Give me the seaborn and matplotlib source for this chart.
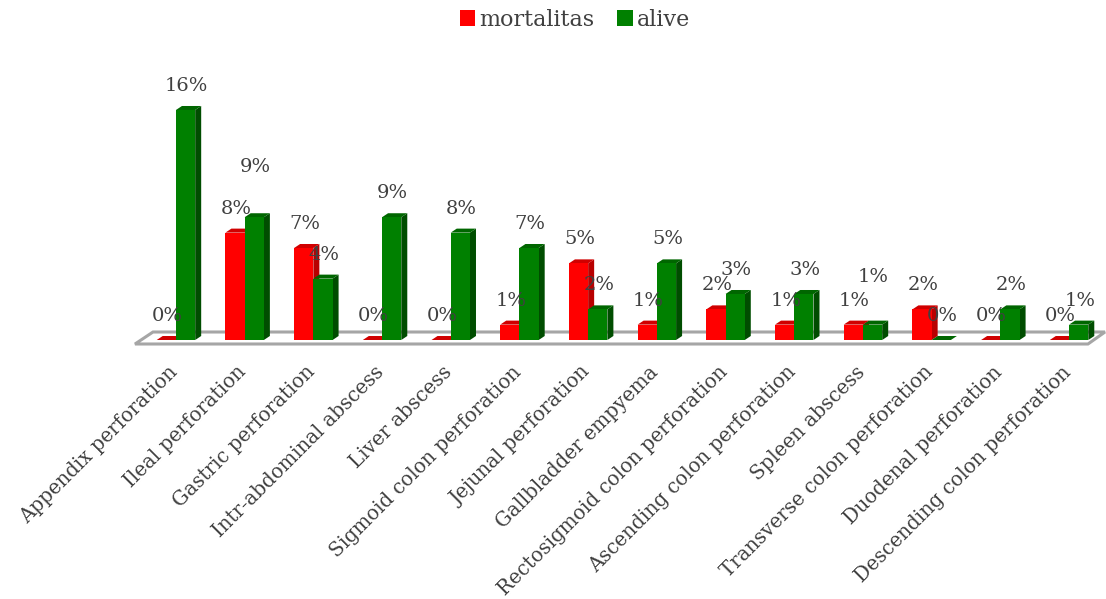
import numpy as np
import pandas as pd
import seaborn as sns
import matplotlib
matplotlib.use("Agg")
import matplotlib.pyplot as plt
from matplotlib.patches import Polygon, Patch
from matplotlib.transforms import IdentityTransform, ScaledTranslation

# Share of all patients (%) per source of infection, split by outcome
categories = [
    "Appendix perforation", "Ileal perforation", "Gastric perforation",
    "Intr-abdominal abscess", "Liver abscess", "Sigmoid colon perforation",
    "Jejunal perforation", "Gallbladder empyema", "Rectosigmoid colon perforation",
    "Ascending colon perforation", "Spleen abscess", "Transverse colon perforation",
    "Duodenal perforation", "Descending colon perforation",
]
mortalitas = [0.00, 7.61, 6.52, 0.00, 0.00, 1.09, 5.43, 1.09, 2.17, 1.09, 1.09, 2.17, 0.00, 0.00]
alive = [16.30, 8.70, 4.35, 8.70, 7.61, 6.52, 2.17, 5.43, 3.26, 3.26, 1.09, 0.00, 2.17, 1.09]
series_names = ["mortalitas", "alive"]

df = pd.DataFrame({
    "category": categories * 2,
    "series": [series_names[0]] * len(categories) + [series_names[1]] * len(categories),
    "value": mortalitas + alive,
})

front = {"mortalitas": "#ff0000", "alive": "#008000"}
side = {"mortalitas": "#b80000", "alive": "#004d00"}
top = {"mortalitas": "#d00000", "alive": "#006600"}
text_color = "#404040"
font = ["DejaVu Serif"]

sns.set_theme(style="white")
plt.rcParams["font.family"] = font

W, H = 1106, 599
fig = plt.figure(figsize=(W / 100, H / 100), dpi=100)
ax = fig.add_axes([141.6 / W, 1 - 340 / H, 961.8 / W, 254 / H])

sns.barplot(data=df, x="category", y="value", hue="series", order=categories,
            hue_order=series_names, palette=front, saturation=1, width=0.56,
            legend=False, linewidth=0, ax=ax)
ax.set_xlim(-0.5, len(categories) - 0.5)
ax.set_ylim(0, 18)
sns.despine(ax=ax, left=True, bottom=True)
ax.set_yticks([])
ax.set_xlabel("")
ax.set_ylabel("")
ax.grid(False)
ax.patch.set_alpha(0)

# floor plate under the columns (pixel geometry, behind the bars)
floor = Polygon([(135, H - 344), (1088, H - 344), (1105, H - 332), (153, H - 332)],
                closed=True, facecolor="white", edgecolor="#a6a6a6", linewidth=2.2,
                transform=IdentityTransform(), zorder=1, clip_on=False)
ax.add_patch(floor)

# pixel-to-data scale for the 3D depth of each column
ppx = 961.8 / len(categories)
ppy = 254 / 18
dx, dy = 6 / ppx, 4 / ppy

bars = list(ax.patches)[:-1]
n = len(categories)
extra_lift = {(1, 1): 26, (1, 10): 24}
for k, bar in enumerate(bars):
    s = k // n
    i = k % n
    name = series_names[s]
    x0, w, h = bar.get_x(), bar.get_width(), bar.get_height()
    z = 2 + 0.01 * i + 0.001 * s
    bar.set_zorder(z + 0.0005)
    ax.add_patch(Polygon([(x0 + w, 0), (x0 + w + dx, dy), (x0 + w + dx, h + dy), (x0 + w, h)],
                         closed=True, facecolor=side[name], edgecolor="none", zorder=z))
    ax.add_patch(Polygon([(x0, h), (x0 + w, h), (x0 + w + dx, h + dy), (x0 + dx, h + dy)],
                         closed=True, facecolor=top[name], edgecolor="none", zorder=z))
    ax.annotate(f"{h:.0f}%", (x0 + w / 2, h), xytext=(1, 24 + extra_lift.get((s, i), 0)),
                textcoords="offset pixels", ha="center", va="center", fontsize=14,
                color=text_color, zorder=10, annotation_clip=False)

ax.set_xticks(range(n))
ax.set_xticklabels(categories, rotation=45, ha="right", rotation_mode="anchor",
                   fontsize=14.2, color=text_color)
ax.tick_params(axis="x", length=0, pad=14)
shift = ScaledTranslation(-0.08, -0.03, fig.dpi_scale_trans)
for lbl in ax.get_xticklabels():
    lbl.set_transform(lbl.get_transform() + shift)

handles = [Patch(facecolor=front[nm], edgecolor="none", label=nm) for nm in series_names]
fig.legend(handles=handles, loc="center", bbox_to_anchor=(575 / W, 1 - 20 / H), ncol=2,
           frameon=False, fontsize=16, handlelength=0.7, handleheight=0.7,
           handletextpad=0.2, columnspacing=1.0, labelcolor=text_color)

fig.savefig("out.png", dpi=100, facecolor="white")
